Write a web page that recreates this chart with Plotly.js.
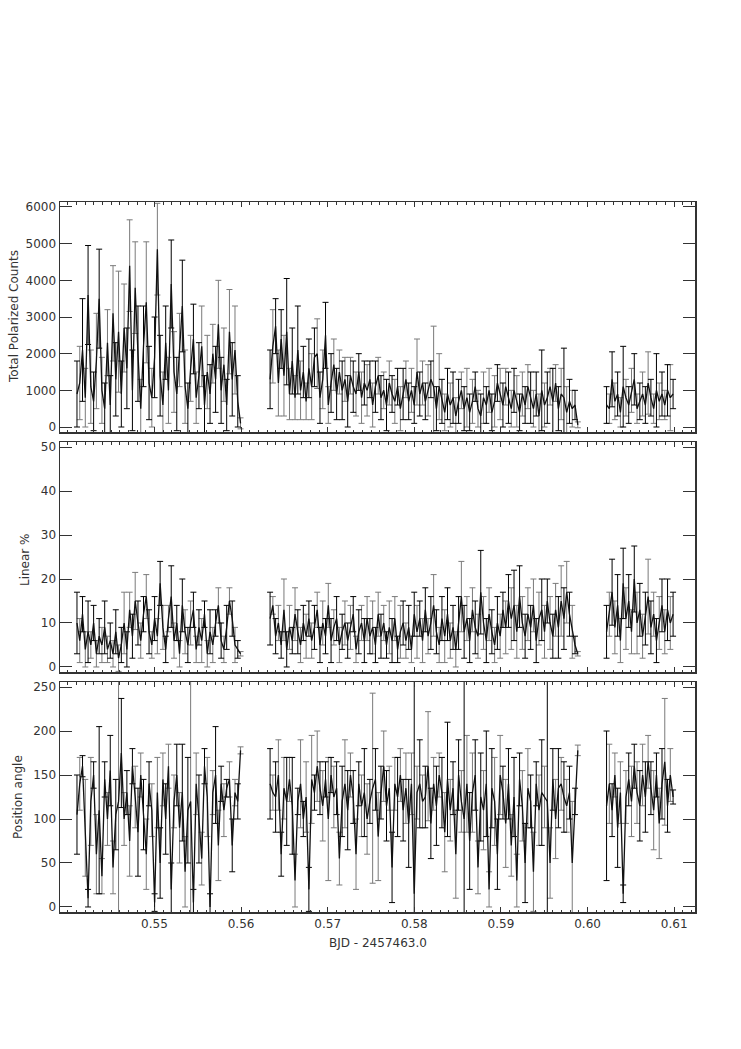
<!DOCTYPE html>
<html>
<head>
<meta charset="utf-8">
<script src="https://cdn.plot.ly/plotly-3.0.1.min.js"></script>
<style>html,body{margin:0;padding:0;background:#fff;}#chart{width:741px;height:1049px;}</style>
</head>
<body>
<div id="chart"></div>
<script>
// ---- time (BJD - 2457463.0), three observing blocks ----
const time = [
 0.54106,0.54138,0.54170,0.54202,0.54234,0.54266,0.54298,0.54330,0.54362,0.54394,
 0.54426,0.54458,0.54490,0.54522,0.54554,0.54586,0.54618,0.54650,0.54682,0.54714,
 0.54746,0.54778,0.54810,0.54842,0.54874,0.54906,0.54938,0.54970,0.55002,0.55034,
 0.55066,0.55098,0.55130,0.55162,0.55194,0.55226,0.55258,0.55290,0.55322,0.55354,
 0.55386,0.55418,0.55450,0.55482,0.55514,0.55546,0.55578,0.55610,0.55642,0.55674,
 0.55706,0.55738,0.55770,0.55802,0.55834,0.55866,0.55898,0.55930,0.55962,0.55994,
 0.56335,0.56367,0.56399,0.56431,0.56463,0.56495,0.56527,0.56559,0.56591,0.56623,
 0.56655,0.56687,0.56719,0.56751,0.56783,0.56815,0.56847,0.56879,0.56911,0.56943,
 0.56975,0.57007,0.57039,0.57071,0.57103,0.57135,0.57167,0.57199,0.57231,0.57263,
 0.57295,0.57327,0.57359,0.57391,0.57423,0.57455,0.57487,0.57519,0.57551,0.57583,
 0.57615,0.57647,0.57679,0.57711,0.57743,0.57775,0.57807,0.57839,0.57871,0.57903,
 0.57935,0.57967,0.57999,0.58031,0.58063,0.58095,0.58127,0.58159,0.58191,0.58223,
 0.58255,0.58287,0.58319,0.58351,0.58383,0.58415,0.58447,0.58479,0.58511,0.58543,
 0.58575,0.58607,0.58639,0.58671,0.58703,0.58735,0.58767,0.58799,0.58831,0.58863,
 0.58895,0.58927,0.58959,0.58991,0.59023,0.59055,0.59087,0.59119,0.59151,0.59183,
 0.59215,0.59247,0.59279,0.59311,0.59343,0.59375,0.59407,0.59439,0.59471,0.59503,
 0.59535,0.59567,0.59599,0.59631,0.59663,0.59695,0.59727,0.59759,0.59791,0.59823,
 0.59855,0.59887,
 0.60219,0.60251,0.60283,0.60315,0.60347,0.60379,0.60411,0.60443,0.60475,0.60507,
 0.60539,0.60571,0.60603,0.60635,0.60667,0.60699,0.60731,0.60763,0.60795,0.60827,
 0.60859,0.60891,0.60923,0.60955,0.60987
];

// ---- Total polarized counts ----
const counts = [
 900,1200,2100,800,3600,1100,700,1800,3500,1000, 500,2300,600,3100,1300,2600,900,2700,1600,4400,
 1000,3800,2000,500,2200,3400,1200,800,1900,4850, 1400,600,2300,1000,3900,1500,900,2100,3300,1100,
 500,1600,2400,800,1400,2200,600,1500,900,2000, 1300,2800,1000,1700,600,2600,1300,2100,700,100,
 1300,2200,2750,1200,2400,1400,2600,900,1800,800, 2100,1000,1500,700,1600,1100,1900,2000,800,1300,
 2500,600,1200,1700,900,1500,1000,1300,700,1400, 1100,900,1500,800,1200,1000,1300,600,1100,1400,
 800,1000,600,1200,900,700,1100,500,900,1300, 700,1000,600,1500,900,1200,700,1000,1300,1100,
 500,1100,700,400,900,600,800,300,700,1000, 500,800,400,700,1100,500,300,800,600,1000,
 400,700,1200,900,600,1100,800,500,1000,700, 400,900,600,1100,800,500,900,300,1000,600,
 800,1100,700,1200,500,900,800,400,700,500, 600,60,
 600,500,1300,700,900,400,1100,800,600,1000, 1300,500,700,900,600,1200,800,500,1000,700,
 900,600,1000,800,900
];
const countsErr = [
 900,1000,1400,800,1350,1000,800,1300,1350,900, 700,900,800,1300,1000,1650,900,1200,1100,1250,
 1100,1250,1300,800,1100,1650,1000,800,1100,1250, 1100,900,1000,900,1200,1100,1000,1000,1250,1000,
 700,900,950,700,900,1100,800,1000,800,800, 900,1200,900,1000,700,1150,1000,1200,700,150,
 800,1000,750,900,800,1100,1450,700,900,600, 1200,800,700,500,800,900,800,950,700,800,
 900,500,800,700,700,600,800,600,700,500, 700,600,500,700,600,700,500,600,700,500,
 600,500,700,600,500,600,500,600,700,500, 500,600,500,900,600,600,500,700,500,1650,
 600,900,600,500,700,600,700,500,600,500, 600,800,500,600,400,500,600,700,500,600,
 500,700,500,700,600,500,700,500,600,700, 500,600,500,600,700,500,600,600,1100,600,
 700,500,900,500,600,700,1350,700,600,500, 400,80,
 500,400,750,500,600,400,1100,500,500,600, 700,400,500,600,500,850,500,400,1000,500,
 600,400,700,900,400
];

// ---- Linear polarization (%) ----
const linPct = [
 10,6,12,4,8,5,10,3,7,5, 9,4,6,3,8,2,5,10,4,13, 7,15,10,6,12,16,8,5,11,7,
 19,9,4,11,16,6,10,3,14,8, 5,10,13,4,9,6,12,3,8,5, 10,14,6,4,9,15,11,5,4,3,
 11,14,7,10,5,13,4,9,6,12, 8,5,10,7,11,6,9,13,5,10, 7,14,6,9,11,5,8,10,6,9,
 12,4,8,10,6,11,7,9,5,12, 7,10,5,9,6,11,4,8,10,6, 9,4,12,8,11,6,13,7,10,14,
 8,5,11,7,12,6,9,4,10,16, 8,11,6,13,9,7,17,10,6,12, 8,5,10,7,13,9,15,11,14,8,
 16,10,7,12,9,14,6,11,13,8, 15,10,7,13,9,15,11,17,12,8, 5,3,
 8,12,17,9,14,6,19,11,15,8, 20,10,13,7,11,16,9,12,6,10, 14,8,13,10,12
];
const linPctErr = [
 7,5,4,4,7,3,4,3,4,4, 6,3,4,3,5,3,4,7,4,4, 5,6.5,5,4,4,5,5,3,5,4,
 5,5,3,3,7,4,4,3,6,5, 4,5,4,3,4,5,3,3,5,4, 3,4,4,3,5,3,4,4,2,0.5,
 6,2,4,4,3,7,4,5,3,6, 5,4,4,5,4,4,5,4,4,5, 4,5,5,4,5,4,4,5,4,5,
 4,3,5,4,5,5,4,6,4,5, 5,4,3,6,5,5,3,6,5,4, 5,3,5,6,4,5,5,4,6,7,
 5,4,5,6,6,4,5,4,6,8, 6,5,5,5,6,5,9.5,6,5,6, 5,4,6,5,4,6,6,7,8,6,
 7,6,5,6,5,6,5,6,7,6, 5,6,5,6,7,8,7,7,5,6, 2,0.5,
 6,5,7.5,6,7,5,8,7,6,5, 7.5,7,6,5,6,8.5,6,5,5,6, 6,5,7,6,5
];

// ---- Position angle (deg) ----
const posAngle = [
 105,140,160,90,10,120,150,60,110,35, 145,100,155,45,105,120,175,100,130,75,
 160,125,85,150,105,60,140,110,5,130, 50,145,100,160,20,120,150,90,130,40,
 110,120,5,140,100,55,160,125,0,130, 150,70,140,110,135,145,70,130,120,178,
 140,130,125,150,60,135,120,145,115,30, 120,140,100,125,20,145,130,160,135,115,
 145,100,150,125,135,55,120,140,110,150, 125,60,140,115,130,100,120,135,145,80,
 130,160,115,135,45,140,125,150,110,135, 95,140,15,130,140,120,125,160,95,140,
 115,150,130,85,145,110,135,60,150,120, 100,140,75,130,150,45,125,110,140,20,
 135,120,60,150,130,95,140,70,125,30, 145,115,50,135,120,40,140,110,130,125,
 120,50,145,100,135,140,125,115,130,50, 120,178,
 115,140,110,150,90,130,15,125,145,120, 160,130,115,150,125,165,135,110,150,95,
 140,165,115,150,125
];
const posAngleErr = [
 45,30,12,55,10,50,15,45,95,20, 20,30,40,30,40,190,62,30,25,40,
 20,35,50,25,40,40,25,30,10,40, 40,30,40,25,30,30,35,40,55,40,
 60,200,15,35,50,30,20,45,15,25, 55,40,20,30,10,20,30,15,20,4,
 40,20,40,40,25,35,50,25,55,30, 15,50,20,40,25,50,20,40,30,40,
 20,70,20,35,30,30,40,50,45,25, 30,40,25,35,50,40,25,108,35,50,
 30,40,40,25,40,30,45,30,35,40, 50,35,260,30,50,30,35,62,40,30,
 45,25,40,45,65,35,30,50,40,35, 200,55,55,45,40,30,50,45,60,20,
 45,50,40,45,30,50,40,35,45,30, 30,40,45,45,30,45,25,40,60,35,
 200,40,35,45,45,30,40,30,30,70, 15,6,
 85,45,30,25,45,35,10,30,30,40, 25,35,40,35,40,30,30,45,25,40,
 40,72,30,30,8
];

const xTickVals = [0.55,0.56,0.57,0.58,0.59,0.60,0.61];
const xTickText = ['0.55','0.56','0.57','0.58','0.59','0.60','0.61'];
const countTicks = [0,1000,2000,3000,4000,5000,6000];
const linTicks = [0,10,20,30,40,50];
const angleTicks = [0,50,100,150,200,250];

// ---- build traces ----
const traces = [];
function addPanel(vals, errs, xa, ya){
  const lx = [], ly = [];
  for (let i = 0; i < time.length; i++) {
    if (i > 0 && time[i] - time[i-1] > 0.002) { lx.push(null); ly.push(null); }
    lx.push(time[i]); ly.push(vals[i]);
  }
  [[1,'#7a7a7a'],[0,'#000000']].forEach(([par,col]) => {
    const ex=[], ey=[], ee=[];
    for (let i = 0; i < time.length; i++) if (i % 2 === par) { ex.push(time[i]); ey.push(vals[i]); ee.push(errs[i]); }
    traces.push({x:ex, y:ey, xaxis:xa, yaxis:ya, type:'scatter', mode:'markers',
      marker:{size:1, color:'rgba(0,0,0,0)'}, hoverinfo:'skip',
      error_y:{type:'data', array:ee, visible:true, color:col, thickness:1, width:3}});
  });
  traces.push({x:lx, y:ly, xaxis:xa, yaxis:ya, type:'scatter', mode:'lines',
    line:{color:'#111111', width:1.3}, connectgaps:false, hoverinfo:'skip'});
}
addPanel(counts, countsErr, 'x', 'y');
addPanel(linPct, linPctErr, 'x2', 'y2');
addPanel(posAngle, posAngleErr, 'x3', 'y3');

const W = 741, H = 1049;
const axCol = '#333333';
function xax(anchor, labels){
  return {domain:[60/W, 695/W], anchor:anchor, range:[0.5391, 0.6124],
    showline:true, linecolor:axCol, linewidth:1.5, mirror:'ticks',
    ticks:'inside', ticklen:5, tickwidth:1, tickcolor:axCol,
    tickvals:xTickVals, ticktext:xTickText, showticklabels:labels,
    minor:{ticks:'inside', dtick:0.001, tick0:0.55, ticklen:2.5, tickwidth:1, tickcolor:axCol},
    showgrid:false, zeroline:false, tickfont:{family:'DejaVu Sans', size:12, color:'#333'}};
}
function yax(anchor, top, bottom, range, ticks){
  return {domain:[1-bottom/H, 1-top/H], anchor:anchor, range:range,
    showline:true, linecolor:axCol, linewidth:1.5, mirror:'ticks',
    ticks:'inside', ticklen:12, tickwidth:1, tickcolor:axCol,
    tickvals:ticks, ticktext:ticks.map(String),
    showgrid:false, zeroline:false, tickfont:{family:'DejaVu Sans', size:12, color:'#333'}};
}

const layout = {
  width:W, height:H, margin:{l:0,r:0,t:0,b:0},
  paper_bgcolor:'#ffffff', plot_bgcolor:'#ffffff', showlegend:false,
  font:{family:'DejaVu Sans', size:12, color:'#333'},
  xaxis: xax('y', false),
  xaxis2: Object.assign(xax('y2', false), {matches:'x'}),
  xaxis3: Object.assign(xax('y3', true), {matches:'x'}),
  yaxis: yax('x', 202, 432, [-136, 6136], countTicks),
  yaxis2: yax('x2', 442, 672, [-1.14, 51.14], linTicks),
  yaxis3: yax('x3', 682, 912, [-5.7, 255.7], angleTicks),
  annotations:[
    {text:'Total Polarized Counts', xref:'paper', yref:'paper', x:14/W, y:1-317/H, textangle:-90,
     showarrow:false, xanchor:'center', yanchor:'middle', font:{size:12, color:'#333'}},
    {text:'Linear %', xref:'paper', yref:'paper', x:25/W, y:1-560/H, textangle:-90,
     showarrow:false, xanchor:'center', yanchor:'middle', font:{size:12, color:'#333'}},
    {text:'Position angle', xref:'paper', yref:'paper', x:18/W, y:1-797/H, textangle:-90,
     showarrow:false, xanchor:'center', yanchor:'middle', font:{size:12, color:'#333'}},
    {text:'BJD - 2457463.0', xref:'paper', yref:'paper', x:377.5/W, y:1-943/H,
     showarrow:false, xanchor:'center', yanchor:'middle', font:{size:12, color:'#333'}}
  ]
};
Plotly.newPlot('chart', traces, layout, {staticPlot:true, displayModeBar:false});
</script>
</body>
</html>
